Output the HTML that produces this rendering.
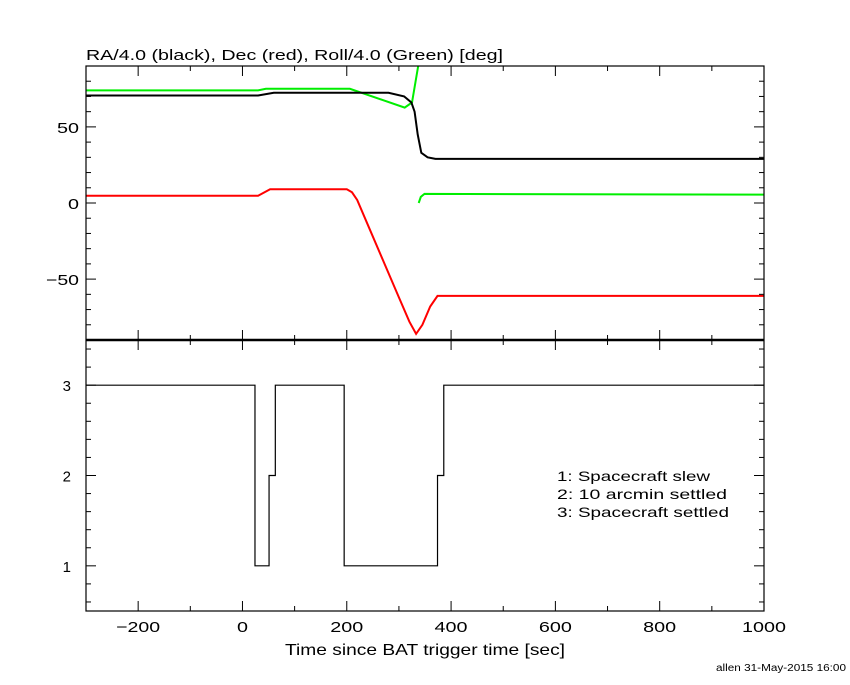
<!DOCTYPE html>
<html><head><meta charset="utf-8"><style>
body{margin:0;background:#fff}
svg text{font-family:"Liberation Sans",sans-serif;fill:#000}
</style></head><body>
<svg id="chart" width="850" height="680" xmlns="http://www.w3.org/2000/svg">
<rect width="850" height="680" fill="#fff"/>
<g id="g"></g>
<text x="86" y="60" font-size="15" textLength="417" lengthAdjust="spacingAndGlyphs">RA/4.0 (black), Dec (red), Roll/4.0 (Green) [deg]</text>
<text x="285" y="655" font-size="16" textLength="280" lengthAdjust="spacingAndGlyphs">Time since BAT trigger time [sec]</text>
<text x="557" y="481" font-size="14" textLength="153" lengthAdjust="spacingAndGlyphs">1: Spacecraft slew</text>
<text x="557" y="499" font-size="14" textLength="170" lengthAdjust="spacingAndGlyphs">2: 10 arcmin settled</text>
<text x="557" y="517" font-size="14" textLength="172" lengthAdjust="spacingAndGlyphs">3: Spacecraft settled</text>
<text x="716" y="671" font-size="10" textLength="130" lengthAdjust="spacingAndGlyphs">allen 31-May-2015 16:00</text>
</svg>
<script>
const raT=[-300,30,60,280,310,324,330,336,343,355,370,1000];
const raV=[70.6,70.6,72.4,72.4,70,66,60,45,33,30,29,29];
const decT=[-300,30,53,200,210,220,240,300,320,333,345,360,374,1000];
const decV=[4.8,4.8,9,9,7,2,-14,-62,-78,-86,-80,-68,-61,-61];
const rollT=[-300,30,45,206,311,325,338];
const rollV=[74,74,75,75,62.7,66,92];
const roll2T=[338,342,349,1000];
const roll2V=[0,4,6,5.5];
const stT=[-300,24,51,63,195,374,386,1000];
const stV=[3,1,2,3,1,2,3,3];
const xTicks=[-200,0,200,400,600,800,1000];
const yTopTicks=[-50,0,50];
const yBotTicks=[1,2,3];

const L=86,R=764,T1=66,B1=340,B2=611;
const xs=t=>L+(t+300)/1300*(R-L);
const y1=v=>T1+(90-v)/180*(B1-T1);
const y2=v=>B1+(3.5-v)/3*(B2-B1);
const g=document.getElementById('g');
const NS='http://www.w3.org/2000/svg';
function mk(tag,attrs,name){const e=document.createElementNS(NS,tag);for(const k in attrs)e.setAttribute(k,attrs[k]);


g.appendChild(e);return e;}
function line(x1,yA,x2,yB,name,w){mk('line',{x1:x1,y1:yA,x2:x2,y2:yB,stroke:'#000','stroke-width':w||1},name);}
const cp=document.createElementNS(NS,'clipPath');cp.setAttribute('id','cp');
const cr=document.createElementNS(NS,'rect');cr.setAttribute('x',L);cr.setAttribute('y',T1);cr.setAttribute('width',R-L);cr.setAttribute('height',B2-T1);cp.appendChild(cr);g.appendChild(cp);
function series(T,V,fy,col,name){const d=T.map((t,i)=>(i?'L':'M')+xs(t).toFixed(1)+','+fy(V[i]).toFixed(1)).join('');
mk('path',{d:d,fill:'none',stroke:col,'stroke-width':2,'clip-path':'url(#cp)'},name);}
series(rollT,rollV,y1,'#00ee00','roll-line');
series(roll2T,roll2V,y1,'#00ee00','roll-line-wrapped');
series(raT,raV,y1,'#000','ra-line');
series(decT,decV,y1,'#ff0000','dec-line');
let d='';stT.forEach((t,i)=>{if(i===0)d='M'+xs(t)+','+y2(stV[0]);else d+='H'+xs(t)+'V'+y2(stV[i]);});
mk('path',{d:d,fill:'none',stroke:'#000','stroke-width':1.2},'settle-status-step');
mk('rect',{x:L,y:T1,width:R-L,height:B2-T1,fill:'none',stroke:'#000','stroke-width':1.2},'plot-frame');
line(L,B1,R,B1,'panel-divider',2.5);
for(let t=-300;t<=1000;t+=100){const X=xs(t),len=(t%200===0)?10:5;
line(X,B2,X,B2-len,'x-tick-bottom');line(X,B1,X,B1-len,'x-tick-mid');line(X,B1,X,B1+len,'x-tick-mid-up');line(X,T1,X,T1+len,'x-tick-top');}
xTicks.forEach(t=>{const lab=(t<0?'\u2212'+(-t):String(t));const w=lab.length*11;
const e=mk('text',{x:xs(t),y:B2+21,'font-size':15,'text-anchor':'middle',textLength:w,lengthAdjust:'spacingAndGlyphs'},'x-tick-label');e.textContent=lab;});
for(let v=-80;v<=90;v+=10){const Y=y1(v),len=(v%50===0)?10:5;line(L,Y,L+len,Y,'y-tick-top-left');line(R,Y,R-len,Y,'y-tick-top-right');}
yTopTicks.forEach(v=>{const lab=(v<0?'\u2212'+(-v):String(v));const e=mk('text',{x:L-7,y:y1(v)+6,'font-size':15,'text-anchor':'end',textLength:lab.length*11,lengthAdjust:'spacingAndGlyphs'},'y-top-tick-label');e.textContent=lab;});
for(let k=3;k<=17;k++){const v=k/5,Y=y2(v),len=(k%5===0)?10:5;line(L,Y,L+len,Y,'y-tick-bot-left');line(R,Y,R-len,Y,'y-tick-bot-right');}
yBotTicks.forEach(v=>{const e=mk('text',{x:L-15,y:y2(v)+6,'font-size':15,'text-anchor':'end'},'y-bot-tick-label');e.textContent=v;});
</script>
</body></html>
